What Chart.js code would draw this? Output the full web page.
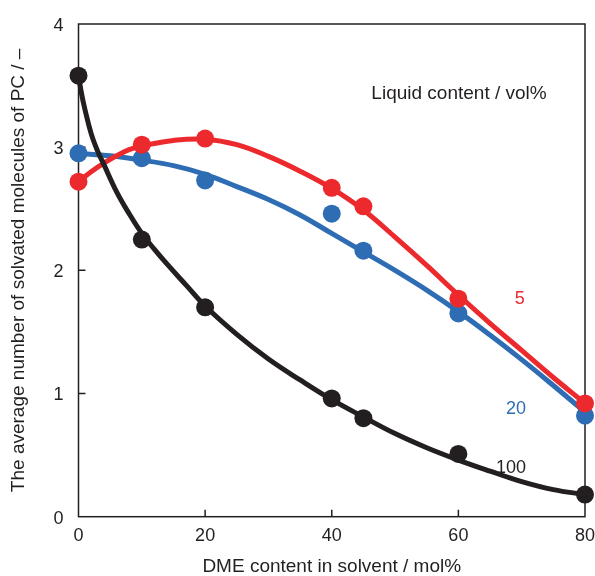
<!DOCTYPE html>
<html>
<head>
<meta charset="utf-8">
<script src="https://cdn.jsdelivr.net/npm/chart.js@4.4.1/dist/chart.umd.min.js"></script>
<style>
  html, body { margin: 0; padding: 0; background: #ffffff; }
  canvas { display: block; }
</style>
</head>
<body>
<canvas id="chart" width="595" height="576"></canvas>
<script>
// Measured points: DME content (mol%) vs. average number of solvated PC molecules
const dmeContent = [0, 10, 20, 40, 45, 60, 80];
const solvated5 = [2.72, 3.02, 3.07, 2.67, 2.52, 1.77, 0.92];
const solvated20 = [2.95, 2.91, 2.73, 2.46, 2.16, 1.65, 0.82];
const solvated100 = [3.58, 2.25, 1.70, 0.96, 0.80, 0.51, 0.18];

// Trend curves through each series
const trend5X = [0, 2, 4, 6, 8, 10, 15, 20, 25, 30, 35, 40, 45, 50, 55, 60, 65, 70, 75, 80];
const trend5Y = [2.72, 2.80, 2.87, 2.93, 2.98, 3.01, 3.055, 3.065, 3.02, 2.925, 2.805, 2.665, 2.49, 2.27, 2.04, 1.80, 1.57, 1.35, 1.13, 0.92];
const trend20X = [0, 5, 10, 15, 20, 25, 30, 35, 40, 45, 50, 55, 60, 65, 70, 75, 80];
const trend20Y = [2.95, 2.93, 2.895, 2.85, 2.78, 2.68, 2.575, 2.45, 2.30, 2.15, 2.00, 1.84, 1.665, 1.475, 1.275, 1.065, 0.85];
const trend100X = [0, 0.5, 1, 2, 3, 4, 6, 8, 10, 12, 14, 17, 20, 25, 30, 35, 40, 45, 50, 55, 60, 65, 70, 75, 80];
const trend100Y = [3.58, 3.43, 3.31, 3.11, 2.97, 2.86, 2.64, 2.46, 2.30, 2.17, 2.05, 1.88, 1.71, 1.48, 1.28, 1.11, 0.95, 0.81, 0.675, 0.56, 0.46, 0.37, 0.285, 0.22, 0.18];

// Series names and in-plot text
const seriesNames = ['5', '20', '100'];
const legendTitle = 'Liquid content / vol%';
const xTitle = 'DME content in solvent / mol%';
const yTitle = 'The average number of solvated molecules of PC / \u2013';

// Where the in-plot text sits, in data units (x centre, baseline y)
const seriesNameX = [69.7, 69.1, 68.3];
const seriesNameY = [1.726, 0.834, 0.357];
const legendTitleAt = [60.1, 3.388];

const INK = '#231f20';
const RED = '#ec2a2e';
const BLUE = '#2e6db4';
const FONT = "'Liberation Sans', Arial, Helvetica, sans-serif";
const colors = [RED, BLUE, INK];

function pts(xs, ys) { return xs.map((x, i) => ({ x: x, y: ys[i] })); }

function curve(xs, ys, color, order) {
  return {
    type: 'line', data: pts(xs, ys), borderColor: color, borderWidth: 5,
    pointRadius: 0, fill: false, tension: 0.4,
    borderCapStyle: 'round', borderJoinStyle: 'round',
    clip: false, order: order
  };
}
function markers(ys, color, order) {
  return {
    type: 'scatter', data: pts(dmeContent, ys), showLine: false,
    pointRadius: 9, pointHoverRadius: 9, pointBackgroundColor: color,
    pointBorderWidth: 0, borderColor: color, clip: false, order: order
  };
}

// Plot frame, inward tick marks and the in-plot labels
const framePlugin = {
  id: 'frame',
  beforeDatasetsDraw(chart) {
    const { ctx, chartArea: a, scales: { x, y } } = chart;
    ctx.save();
    ctx.strokeStyle = INK;
    ctx.lineWidth = 1.5;
    ctx.strokeRect(a.left, a.top, a.right - a.left, a.bottom - a.top);
    ctx.beginPath();
    x.ticks.forEach(t => {
      if (t.value > x.min && t.value < x.max) {
        const px = x.getPixelForValue(t.value);
        ctx.moveTo(px, a.bottom); ctx.lineTo(px, a.bottom - 7);
      }
    });
    y.ticks.forEach(t => {
      if (t.value > y.min && t.value < y.max) {
        const py = y.getPixelForValue(t.value);
        ctx.moveTo(a.left, py); ctx.lineTo(a.left + 7, py);
      }
    });
    ctx.stroke();
    ctx.restore();
  },
  afterDatasetsDraw(chart) {
    const { ctx, scales: { x, y } } = chart;
    ctx.save();
    ctx.textAlign = 'center';
    ctx.textBaseline = 'alphabetic';
    ctx.font = '18px ' + FONT;
    seriesNames.forEach((name, i) => {
      ctx.fillStyle = colors[i];
      ctx.fillText(name, x.getPixelForValue(seriesNameX[i]), y.getPixelForValue(seriesNameY[i]));
    });
    ctx.font = '19px ' + FONT;
    ctx.fillStyle = INK;
    ctx.fillText(legendTitle, x.getPixelForValue(legendTitleAt[0]), y.getPixelForValue(legendTitleAt[1]));
    ctx.restore();
  }
};

new Chart(document.getElementById('chart'), {
  data: {
    datasets: [
      markers(solvated5, RED, 0),
      markers(solvated20, BLUE, 1),
      markers(solvated100, INK, 2),
      curve(trend100X, trend100Y, INK, 3),
      curve(trend5X, trend5Y, RED, 4),
      curve(trend20X, trend20Y, BLUE, 5)
    ]
  },
  options: {
    responsive: false,
    animation: false,
    events: [],
    layout: { padding: { left: 0, top: 24, right: 10, bottom: 0 } },
    plugins: { legend: { display: false }, tooltip: { enabled: false } },
    scales: {
      x: {
        type: 'linear', min: 0, max: 80,
        ticks: { stepSize: 20, color: INK, padding: 9, font: { family: FONT, size: 18 } },
        grid: { display: false, drawTicks: false },
        border: { display: false },
        title: { display: true, text: xTitle, color: INK, padding: { top: 0, bottom: -2 },
                 font: { family: FONT, size: 19 } },
        afterFit(s) { s.height = 59.3; s.paddingLeft = 0; s.paddingRight = 0; }
      },
      y: {
        type: 'linear', min: 0, max: 4,
        ticks: { stepSize: 1, color: INK, padding: 15, labelOffset: 2, font: { family: FONT, size: 18 } },
        grid: { display: false, drawTicks: false },
        border: { display: false },
        title: { display: true, text: yTitle, color: INK, padding: { top: 7, bottom: 0 },
                 font: { family: FONT, size: 19 } },
        afterFit(s) { s.width = 78.5; s.paddingTop = 0; s.paddingBottom = 0; }
      }
    }
  },
  plugins: [framePlugin]
});
</script>
</body>
</html>
